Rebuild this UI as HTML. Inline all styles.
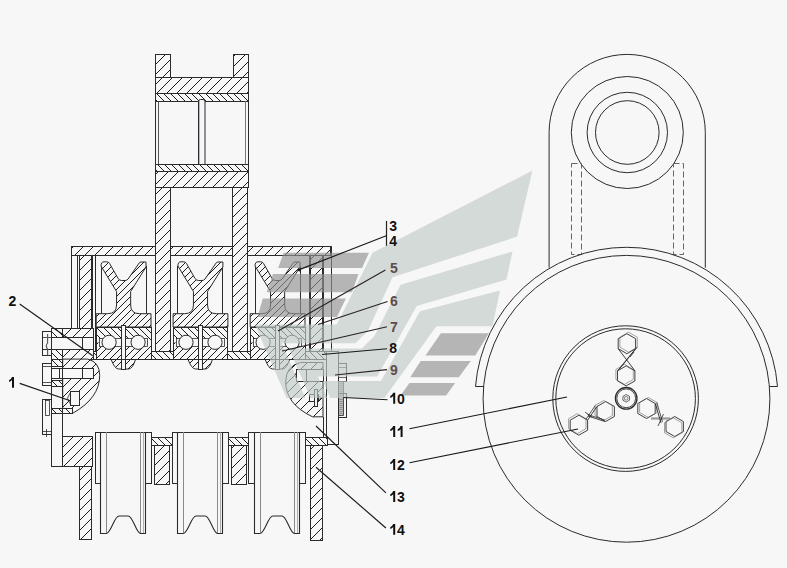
<!DOCTYPE html>
<html><head><meta charset="utf-8"><style>
html,body{margin:0;padding:0;background:#f7f7f7;}
svg{display:block;}
text{font-family:"Liberation Sans",sans-serif;font-weight:bold;font-size:14px;}
</style></head><body>
<svg width="787" height="568" viewBox="0 0 787 568">
<defs>
<pattern id="hA" patternUnits="userSpaceOnUse" width="10" height="10">
<path d="M-1,1 L1,-1 M0,10 L10,0 M9,11 L11,9" stroke="#1c1c1c" stroke-width="1" shape-rendering="crispEdges"/>
</pattern>
<pattern id="hB" patternUnits="userSpaceOnUse" width="7" height="7">
<path d="M-1,6 L1,8 M0,0 L7,7 M6,-1 L8,1" stroke="#1c1c1c" stroke-width="1" shape-rendering="crispEdges"/>
</pattern>
<pattern id="hC" patternUnits="userSpaceOnUse" width="7" height="7">
<path d="M-1,1 L1,-1 M0,7 L7,0 M6,8 L8,6" stroke="#1c1c1c" stroke-width="1" shape-rendering="crispEdges"/>
</pattern>
<pattern id="hD" patternUnits="userSpaceOnUse" width="9" height="9">
<path d="M-1,1 L1,-1 M0,9 L9,0 M8,10 L10,8" stroke="#1c1c1c" stroke-width="1" shape-rendering="crispEdges"/>
</pattern>
</defs>
<rect width="787" height="568" fill="#f7f7f7"/>
<path d="M549.1,267.7 L549.1,132.5 A78.1,78.1 0 0 1 705.3,132.5 L705.3,267.7" fill="none" stroke="#2b2b2b" stroke-width="1.0" />
<circle cx="627.3" cy="132.5" r="56.0" fill="none" stroke="#2b2b2b" stroke-width="1.0" />
<circle cx="627.3" cy="132.5" r="40.2" fill="none" stroke="#2b2b2b" stroke-width="1.0" />
<circle cx="627.3" cy="132.5" r="31.8" fill="none" stroke="#2b2b2b" stroke-width="1.0" />
<rect x="571.5" y="163.5" width="10.0" height="91.0" fill="none" stroke="#555" stroke-width="0.9" stroke-dasharray="6,3"/>
<rect x="673.5" y="163.5" width="10.0" height="91.0" fill="none" stroke="#555" stroke-width="0.9" stroke-dasharray="6,3"/>
<circle cx="626.5" cy="398.8" r="143.4" fill="none" stroke="#2b2b2b" stroke-width="1.0" />
<path d="M483.6,386.5 L475.5,386.5 A151.5,151.5 0 0 1 777.5,386.5 L769.4,386.5" fill="none" stroke="#2b2b2b" stroke-width="1.0" />
<circle cx="625.6" cy="398.6" r="72.8" fill="none" stroke="#2b2b2b" stroke-width="1.0" />
<circle cx="625.6" cy="398.6" r="69.8" fill="none" stroke="#2b2b2b" stroke-width="1.0" />
<circle cx="626.2" cy="398.3" r="10.8" fill="none" stroke="#2b2b2b" stroke-width="1.3" />
<circle cx="626.2" cy="398.3" r="9.4" fill="none" stroke="#2b2b2b" stroke-width="0.9" />
<polygon points="629.5,400.2 626.2,402.1 622.9,400.2 622.9,396.4 626.2,394.5 629.5,396.4" fill="none" stroke="#2b2b2b" stroke-width="0.7" />
<circle cx="626.2" cy="398.3" r="1.8" fill="none" stroke="#2b2b2b" stroke-width="0.6" />
<polygon points="635.6,348.7 626.9,353.7 618.2,348.7 618.2,338.7 626.9,333.7 635.6,338.7" fill="none" stroke="#2b2b2b" stroke-width="0.9" />
<polygon points="637.3,347.2 628.6,352.2 619.9,347.2 619.9,337.2 628.6,332.2 637.3,337.2" fill="none" stroke="#666" stroke-width="0.6" />
<polygon points="634.9,380.9 626.2,385.9 617.5,380.9 617.5,370.9 626.2,365.9 634.9,370.9" fill="none" stroke="#2b2b2b" stroke-width="0.9" />
<polygon points="633.3,379.4 624.6,384.4 615.9,379.4 615.9,369.4 624.6,364.4 633.3,369.4" fill="none" stroke="#666" stroke-width="0.6" />
<polyline points="635.6,348.7 617.5,370.9" fill="none" stroke="#2b2b2b" stroke-width="0.9" />
<polyline points="637.2,347.2 619.2,369.4" fill="none" stroke="#2b2b2b" stroke-width="0.8" />
<polyline points="618.2,348.7 635.0,370.9" fill="none" stroke="#2b2b2b" stroke-width="0.9" />
<line x1="630.0" y1="357.0" x2="634.0" y2="352.0" stroke="#2b2b2b" stroke-width="0.8" />
<polygon points="614.4,416.5 605.7,421.5 597.0,416.5 597.0,406.5 605.7,401.5 614.4,406.5" fill="none" stroke="#2b2b2b" stroke-width="0.9" />
<polygon points="612.4,415.5 603.7,420.5 595.0,415.5 595.0,405.5 603.7,400.5 612.4,405.5" fill="none" stroke="#666" stroke-width="0.6" />
<polygon points="587.6,430.2 578.9,435.2 570.2,430.2 570.2,420.2 578.9,415.2 587.6,420.2" fill="none" stroke="#2b2b2b" stroke-width="0.9" />
<polygon points="586.0,428.7 577.3,433.7 568.6,428.7 568.6,418.7 577.3,413.7 586.0,418.7" fill="none" stroke="#666" stroke-width="0.6" />
<polyline points="596.9,406.5 587.6,420.2" fill="none" stroke="#2b2b2b" stroke-width="0.9" />
<polyline points="595.3,405.5 586.0,419.2" fill="none" stroke="#2b2b2b" stroke-width="0.8" />
<polyline points="588.0,416.0 605.0,421.5" fill="none" stroke="#2b2b2b" stroke-width="0.9" />
<polyline points="587.6,414.5 604.6,420.0" fill="none" stroke="#2b2b2b" stroke-width="0.8" />
<line x1="585.0" y1="412.0" x2="592.0" y2="417.0" stroke="#2b2b2b" stroke-width="0.8" />
<polygon points="655.2,413.5 646.5,418.5 637.8,413.5 637.8,403.5 646.5,398.5 655.2,403.5" fill="none" stroke="#2b2b2b" stroke-width="0.9" />
<polygon points="657.0,412.5 648.3,417.5 639.6,412.5 639.6,402.5 648.3,397.5 657.0,402.5" fill="none" stroke="#666" stroke-width="0.6" />
<polygon points="683.4,431.5 674.7,436.5 666.0,431.5 666.0,421.5 674.7,416.5 683.4,421.5" fill="none" stroke="#2b2b2b" stroke-width="0.9" />
<polygon points="681.9,432.8 673.2,437.8 664.5,432.8 664.5,422.8 673.2,417.8 681.9,422.8" fill="none" stroke="#666" stroke-width="0.6" />
<line x1="651.0" y1="418.5" x2="670.0" y2="418.5" stroke="#9a9a9a" stroke-width="2.2" />
<polyline points="655.3,403.5 661.0,423.0" fill="none" stroke="#2b2b2b" stroke-width="0.9" />
<polyline points="656.8,402.5 662.5,422.0" fill="none" stroke="#2b2b2b" stroke-width="0.8" />
<polyline points="658.0,426.0 663.5,414.0" fill="none" stroke="#2b2b2b" stroke-width="0.8" />
<rect x="155.5" y="54.5" width="15.0" height="23.0" fill="#f7f7f7"/>
<rect x="155.5" y="54.5" width="15.0" height="23.0" fill="url(#hA)" stroke="#2b2b2b" stroke-width="1.0" />
<rect x="233.5" y="54.5" width="15.0" height="23.0" fill="#f7f7f7"/>
<rect x="233.5" y="54.5" width="15.0" height="23.0" fill="url(#hA)" stroke="#2b2b2b" stroke-width="1.0" />
<rect x="155.5" y="77.5" width="93.0" height="16.0" fill="#f7f7f7"/>
<rect x="155.5" y="77.5" width="93.0" height="16.0" fill="url(#hA)" stroke="#2b2b2b" stroke-width="1.0" />
<rect x="155.5" y="93.5" width="93.0" height="8.0" fill="#f7f7f7"/>
<rect x="155.5" y="93.5" width="93.0" height="8.0" fill="url(#hB)" stroke="#2b2b2b" stroke-width="1.0" />
<line x1="155.5" y1="101.2" x2="155.5" y2="164.5" stroke="#2b2b2b" stroke-width="1.0" />
<line x1="248.5" y1="101.2" x2="248.5" y2="164.5" stroke="#2b2b2b" stroke-width="1.0" />
<line x1="158.5" y1="101.2" x2="158.5" y2="164.5" stroke="#555" stroke-width="1.0" />
<line x1="245.5" y1="101.2" x2="245.5" y2="164.5" stroke="#777" stroke-width="1.0" />
<rect x="198.5" y="99.5" width="6.5" height="66.5" rx="2" fill="#f4f6fa" stroke="#2b2b2b" stroke-width="1"/>
<line x1="199.5" y1="101.0" x2="199.5" y2="164.0" stroke="#aaa" stroke-width="0.8" />
<rect x="155.5" y="164.5" width="93.0" height="7.0" fill="#f7f7f7"/>
<rect x="155.5" y="164.5" width="93.0" height="7.0" fill="url(#hB)" stroke="#2b2b2b" stroke-width="1.0" />
<rect x="155.5" y="171.5" width="93.0" height="16.0" fill="#f7f7f7"/>
<rect x="155.5" y="171.5" width="93.0" height="16.0" fill="url(#hA)" stroke="#2b2b2b" stroke-width="1.0" />
<rect x="155.5" y="187.5" width="15.0" height="165.0" fill="#f7f7f7"/>
<rect x="155.5" y="187.5" width="15.0" height="165.0" fill="url(#hA)" stroke="#2b2b2b" stroke-width="1.0" />
<rect x="232.5" y="187.5" width="15.0" height="165.0" fill="#f7f7f7"/>
<rect x="232.5" y="187.5" width="15.0" height="165.0" fill="url(#hA)" stroke="#2b2b2b" stroke-width="1.0" />
<rect x="71.5" y="246.5" width="84.0" height="9.0" fill="#f7f7f7"/>
<rect x="71.5" y="246.5" width="84.0" height="9.0" fill="url(#hA)" stroke="#2b2b2b" stroke-width="1.0" />
<rect x="170.5" y="246.5" width="62.0" height="9.0" fill="#f7f7f7"/>
<rect x="170.5" y="246.5" width="62.0" height="9.0" fill="url(#hA)" stroke="#2b2b2b" stroke-width="1.0" />
<rect x="247.5" y="246.5" width="83.0" height="9.0" fill="#f7f7f7"/>
<rect x="247.5" y="246.5" width="83.0" height="9.0" fill="url(#hA)" stroke="#2b2b2b" stroke-width="1.0" />
<line x1="71.5" y1="255.9" x2="71.5" y2="328.6" stroke="#2b2b2b" stroke-width="1.0" />
<line x1="77.5" y1="255.9" x2="77.5" y2="328.6" stroke="#2b2b2b" stroke-width="1.0" />
<rect x="79.5" y="255.5" width="12.0" height="76.0" fill="#f7f7f7"/>
<rect x="79.5" y="255.5" width="12.0" height="76.0" fill="url(#hA)" stroke="#2b2b2b" stroke-width="1.0" />
<line x1="92.5" y1="255.9" x2="92.5" y2="359.3" stroke="#2b2b2b" stroke-width="1.0" />
<line x1="95.5" y1="255.9" x2="95.5" y2="359.3" stroke="#2b2b2b" stroke-width="1.0" />
<rect x="310.5" y="255.5" width="12.0" height="96.0" fill="#f7f7f7"/>
<rect x="310.5" y="255.5" width="12.0" height="96.0" fill="url(#hA)" stroke="#2b2b2b" stroke-width="1.0" />
<line x1="309.5" y1="255.9" x2="309.5" y2="351.4" stroke="#2b2b2b" stroke-width="1.0" />
<line x1="323.5" y1="255.9" x2="323.5" y2="351.4" stroke="#2b2b2b" stroke-width="1.0" />
<line x1="331.5" y1="246.1" x2="331.5" y2="351.0" stroke="#2b2b2b" stroke-width="1.0" />
<rect x="52.5" y="351.5" width="275.0" height="8.0" fill="#f7f7f7"/>
<rect x="52.5" y="351.5" width="275.0" height="8.0" fill="url(#hB)" stroke="#2b2b2b" stroke-width="1.0" />
<line x1="101.5" y1="266.0" x2="101.5" y2="313.7" stroke="#2b2b2b" stroke-width="1.0" />
<line x1="146.5" y1="266.0" x2="146.5" y2="313.7" stroke="#2b2b2b" stroke-width="1.0" />
<path d="M101.0,266 Q101.0,261.8 104.1,261.8 L106.6,261.8 Q108.8,261.8 109.6,263.5 L118.1,278.5 Q119.6,280.5 121.6,280.5 L125.1,280.5 Q126.89999999999999,280.5 128.1,279 L139.2,263 Q139.9,262 141.0,262 L146.0,262 L146.0,267 L130.65,291.5 L130.65,305 Q130.65,313.7 139.6,313.7 L151.0,313.7 L151.0,327 L96.19999999999999,327 L96.19999999999999,313.7 L107.6,313.7 Q116.55,313.7 116.55,305 L116.55,291.5 Z" fill="#f7f7f7"/>
<path d="M101.0,266 Q101.0,261.8 104.1,261.8 L106.6,261.8 Q108.8,261.8 109.6,263.5 L118.1,278.5 Q119.6,280.5 121.6,280.5 L125.1,280.5 Q126.89999999999999,280.5 128.1,279 L139.2,263 Q139.9,262 141.0,262 L146.0,262 L146.0,267 L130.65,291.5 L130.65,305 Q130.65,313.7 139.6,313.7 L151.0,313.7 L151.0,327 L96.19999999999999,327 L96.19999999999999,313.7 L107.6,313.7 Q116.55,313.7 116.55,305 L116.55,291.5 Z" fill="url(#hC)" stroke="#2b2b2b" stroke-width="1.0" />
<path d="M111.1,359.3 Q114.6,369 118.6,369 L128.6,369 Q132.6,369 135.6,359.3" fill="#f7f7f7"/>
<path d="M111.1,359.3 Q114.6,369 118.6,369 L128.6,369 Q132.6,369 135.6,359.3" fill="url(#hC)" stroke="#2b2b2b" stroke-width="1.0" />
<rect x="121.5" y="359.5" width="4.0" height="10.0" fill="#f7f7f7" stroke="#2b2b2b" stroke-width="1.0" />
<rect x="96.5" y="327.5" width="55.0" height="15.0" fill="#f7f7f7"/>
<rect x="96.5" y="327.5" width="55.0" height="15.0" fill="url(#hB)" stroke="none" stroke-width="1.0" />
<rect x="96.5" y="342.5" width="55.0" height="17.0" fill="#f7f7f7"/>
<rect x="96.5" y="342.5" width="55.0" height="17.0" fill="url(#hC)" stroke="none" stroke-width="1.0" />
<rect x="96.5" y="327.5" width="55.0" height="32.0" fill="none" stroke="#2b2b2b" stroke-width="1.0" />
<rect x="99.5" y="338.5" width="48.0" height="8.0" fill="#f7f7f7" stroke="#2b2b2b" stroke-width="0.8" />
<circle cx="109.1" cy="342.3" r="7.1" fill="#f7f7f7" stroke="#2b2b2b" stroke-width="1.0" />
<circle cx="138.1" cy="342.3" r="7.1" fill="#f7f7f7" stroke="#2b2b2b" stroke-width="1.0" />
<rect x="121.5" y="325.5" width="4.0" height="34.0" fill="#f7f7f7" stroke="#2b2b2b" stroke-width="1.0" />
<line x1="177.5" y1="266.0" x2="177.5" y2="313.7" stroke="#2b2b2b" stroke-width="1.0" />
<line x1="222.5" y1="266.0" x2="222.5" y2="313.7" stroke="#2b2b2b" stroke-width="1.0" />
<path d="M177.9,266 Q177.9,261.8 181.0,261.8 L183.5,261.8 Q185.7,261.8 186.5,263.5 L195.0,278.5 Q196.5,280.5 198.5,280.5 L202.0,280.5 Q203.8,280.5 205.0,279 L216.1,263 Q216.8,262 217.9,262 L222.9,262 L222.9,267 L207.55,291.5 L207.55,305 Q207.55,313.7 216.5,313.7 L227.9,313.7 L227.9,327 L173.1,327 L173.1,313.7 L184.5,313.7 Q193.45,313.7 193.45,305 L193.45,291.5 Z" fill="#f7f7f7"/>
<path d="M177.9,266 Q177.9,261.8 181.0,261.8 L183.5,261.8 Q185.7,261.8 186.5,263.5 L195.0,278.5 Q196.5,280.5 198.5,280.5 L202.0,280.5 Q203.8,280.5 205.0,279 L216.1,263 Q216.8,262 217.9,262 L222.9,262 L222.9,267 L207.55,291.5 L207.55,305 Q207.55,313.7 216.5,313.7 L227.9,313.7 L227.9,327 L173.1,327 L173.1,313.7 L184.5,313.7 Q193.45,313.7 193.45,305 L193.45,291.5 Z" fill="url(#hC)" stroke="#2b2b2b" stroke-width="1.0" />
<path d="M188.0,359.3 Q191.5,369 195.5,369 L205.5,369 Q209.5,369 212.5,359.3" fill="#f7f7f7"/>
<path d="M188.0,359.3 Q191.5,369 195.5,369 L205.5,369 Q209.5,369 212.5,359.3" fill="url(#hC)" stroke="#2b2b2b" stroke-width="1.0" />
<rect x="198.5" y="359.5" width="4.0" height="10.0" fill="#f7f7f7" stroke="#2b2b2b" stroke-width="1.0" />
<rect x="173.5" y="327.5" width="54.0" height="15.0" fill="#f7f7f7"/>
<rect x="173.5" y="327.5" width="54.0" height="15.0" fill="url(#hB)" stroke="none" stroke-width="1.0" />
<rect x="173.5" y="342.5" width="54.0" height="17.0" fill="#f7f7f7"/>
<rect x="173.5" y="342.5" width="54.0" height="17.0" fill="url(#hC)" stroke="none" stroke-width="1.0" />
<rect x="173.5" y="327.5" width="54.0" height="32.0" fill="none" stroke="#2b2b2b" stroke-width="1.0" />
<rect x="176.5" y="338.5" width="48.0" height="8.0" fill="#f7f7f7" stroke="#2b2b2b" stroke-width="0.8" />
<circle cx="186.0" cy="342.3" r="7.1" fill="#f7f7f7" stroke="#2b2b2b" stroke-width="1.0" />
<circle cx="215.0" cy="342.3" r="7.1" fill="#f7f7f7" stroke="#2b2b2b" stroke-width="1.0" />
<rect x="198.5" y="325.5" width="4.0" height="34.0" fill="#f7f7f7" stroke="#2b2b2b" stroke-width="1.0" />
<line x1="255.5" y1="266.0" x2="255.5" y2="313.7" stroke="#2b2b2b" stroke-width="1.0" />
<line x1="300.5" y1="266.0" x2="300.5" y2="313.7" stroke="#2b2b2b" stroke-width="1.0" />
<path d="M255.00000000000003,266 Q255.00000000000003,261.8 258.1,261.8 L260.6,261.8 Q262.8,261.8 263.6,263.5 L272.1,278.5 Q273.6,280.5 275.6,280.5 L279.1,280.5 Q280.90000000000003,280.5 282.1,279 L293.20000000000005,263 Q293.90000000000003,262 295.0,262 L300.0,262 L300.0,267 L284.65000000000003,291.5 L284.65000000000003,305 Q284.65000000000003,313.7 293.6,313.7 L305.0,313.7 L305.0,327 L250.20000000000002,327 L250.20000000000002,313.7 L261.6,313.7 Q270.55,313.7 270.55,305 L270.55,291.5 Z" fill="#f7f7f7"/>
<path d="M255.00000000000003,266 Q255.00000000000003,261.8 258.1,261.8 L260.6,261.8 Q262.8,261.8 263.6,263.5 L272.1,278.5 Q273.6,280.5 275.6,280.5 L279.1,280.5 Q280.90000000000003,280.5 282.1,279 L293.20000000000005,263 Q293.90000000000003,262 295.0,262 L300.0,262 L300.0,267 L284.65000000000003,291.5 L284.65000000000003,305 Q284.65000000000003,313.7 293.6,313.7 L305.0,313.7 L305.0,327 L250.20000000000002,327 L250.20000000000002,313.7 L261.6,313.7 Q270.55,313.7 270.55,305 L270.55,291.5 Z" fill="url(#hC)" stroke="#2b2b2b" stroke-width="1.0" />
<path d="M265.1,359.3 Q268.6,369 272.6,369 L282.6,369 Q286.6,369 289.6,359.3" fill="#f7f7f7"/>
<path d="M265.1,359.3 Q268.6,369 272.6,369 L282.6,369 Q286.6,369 289.6,359.3" fill="url(#hC)" stroke="#2b2b2b" stroke-width="1.0" />
<rect x="275.5" y="359.5" width="4.0" height="10.0" fill="#f7f7f7" stroke="#2b2b2b" stroke-width="1.0" />
<rect x="250.5" y="327.5" width="55.0" height="15.0" fill="#f7f7f7"/>
<rect x="250.5" y="327.5" width="55.0" height="15.0" fill="url(#hB)" stroke="none" stroke-width="1.0" />
<rect x="250.5" y="342.5" width="55.0" height="17.0" fill="#f7f7f7"/>
<rect x="250.5" y="342.5" width="55.0" height="17.0" fill="url(#hC)" stroke="none" stroke-width="1.0" />
<rect x="250.5" y="327.5" width="55.0" height="32.0" fill="none" stroke="#2b2b2b" stroke-width="1.0" />
<rect x="253.5" y="338.5" width="48.0" height="8.0" fill="#f7f7f7" stroke="#2b2b2b" stroke-width="0.8" />
<circle cx="263.1" cy="342.3" r="7.1" fill="#f7f7f7" stroke="#2b2b2b" stroke-width="1.0" />
<circle cx="292.1" cy="342.3" r="7.1" fill="#f7f7f7" stroke="#2b2b2b" stroke-width="1.0" />
<rect x="275.5" y="325.5" width="4.0" height="34.0" fill="#f7f7f7" stroke="#2b2b2b" stroke-width="1.0" />
<rect x="51.5" y="328.5" width="42.0" height="31.0" fill="#f7f7f7"/>
<rect x="51.5" y="328.5" width="42.0" height="31.0" fill="url(#hA)" stroke="#2b2b2b" stroke-width="1.0" />
<rect x="51.5" y="328.5" width="11.0" height="31.0" fill="#f7f7f7"/>
<rect x="51.5" y="328.5" width="11.0" height="31.0" fill="url(#hB)" stroke="#2b2b2b" stroke-width="1.0" />
<rect x="51.5" y="337.5" width="42.0" height="12.0" fill="#f7f7f7" stroke="#2b2b2b" stroke-width="1.0" />
<line x1="82.5" y1="337.3" x2="82.5" y2="349.1" stroke="#2b2b2b" stroke-width="1.0" />
<rect x="42.5" y="331.5" width="9.0" height="24.0" fill="#f7f7f7" stroke="#2b2b2b" stroke-width="1.0" />
<line x1="42.3" y1="337.5" x2="51.1" y2="337.5" stroke="#2b2b2b" stroke-width="0.8" />
<line x1="42.3" y1="349.5" x2="51.1" y2="349.5" stroke="#2b2b2b" stroke-width="1.0" />
<path d="M47.6,334 L47.6,343 Q45,346 47.6,349 L47.6,355" fill="none" stroke="#555" stroke-width="1.1" />
<rect x="42.5" y="363.5" width="9.0" height="22.0" fill="#f7f7f7" stroke="#2b2b2b" stroke-width="1.0" />
<rect x="42.5" y="399.5" width="9.0" height="35.0" fill="#f7f7f7" stroke="#2b2b2b" stroke-width="1.0" />
<path d="M62.7,359.1 L87.8,359.1 Q99.7,362 99.7,375.4 Q99.7,398 72.8,413.2 L62.7,413.2 Z" fill="#f7f7f7"/>
<path d="M62.7,359.1 L87.8,359.1 Q99.7,362 99.7,375.4 Q99.7,398 72.8,413.2 L62.7,413.2 Z" fill="url(#hA)" stroke="#2b2b2b" stroke-width="1.0" />
<rect x="51.5" y="359.5" width="11.0" height="54.0" fill="#f7f7f7" stroke="#2b2b2b" stroke-width="1.0" />
<rect x="51.5" y="359.5" width="11.0" height="7.0" fill="#f7f7f7"/>
<rect x="51.5" y="359.5" width="11.0" height="7.0" fill="url(#hB)" stroke="#2b2b2b" stroke-width="1.0" />
<rect x="51.5" y="380.5" width="11.0" height="6.0" fill="#f7f7f7"/>
<rect x="51.5" y="380.5" width="11.0" height="6.0" fill="url(#hB)" stroke="#2b2b2b" stroke-width="1.0" />
<rect x="51.5" y="408.5" width="21.0" height="5.0" fill="#f7f7f7"/>
<rect x="51.5" y="408.5" width="21.0" height="5.0" fill="url(#hB)" stroke="#2b2b2b" stroke-width="1.0" />
<rect x="51.5" y="368.5" width="42.0" height="10.0" fill="#f7f7f7" stroke="#2b2b2b" stroke-width="1.0" />
<line x1="59.5" y1="368.9" x2="59.5" y2="378.8" stroke="#2b2b2b" stroke-width="1.0" />
<line x1="82.5" y1="368.9" x2="82.5" y2="378.8" stroke="#2b2b2b" stroke-width="1.0" />
<rect x="70.5" y="391.5" width="9.0" height="14.0" fill="#f7f7f7" stroke="#2b2b2b" stroke-width="1.0" />
<path d="M70.9,391.5 L67.5,398.2 L70.9,405" fill="none" stroke="#2b2b2b" stroke-width="0.8" />
<line x1="62.5" y1="359.1" x2="62.5" y2="466.3" stroke="#2b2b2b" stroke-width="1.0" />
<line x1="42.3" y1="366.5" x2="51.5" y2="366.5" stroke="#2b2b2b" stroke-width="0.8" />
<line x1="42.3" y1="382.5" x2="51.5" y2="382.5" stroke="#2b2b2b" stroke-width="0.8" />
<rect x="45.5" y="400.5" width="4.0" height="15.0" fill="none" stroke="#2b2b2b" stroke-width="0.8" />
<line x1="42.5" y1="431.5" x2="51.2" y2="431.5" stroke="#2b2b2b" stroke-width="0.8" />
<line x1="46.5" y1="429.0" x2="46.5" y2="437.0" stroke="#2b2b2b" stroke-width="0.8" />
<rect x="51.5" y="413.5" width="11.0" height="53.0" fill="#f7f7f7" stroke="#2b2b2b" stroke-width="1.0" />
<path d="M323,362.5 L300.5,362.5 Q285.7,366 285.7,382 Q285.7,404 312.5,416.8 L323,416.8 Z" fill="#f7f7f7"/>
<path d="M323,362.5 L300.5,362.5 Q285.7,366 285.7,382 Q285.7,404 312.5,416.8 L323,416.8 Z" fill="url(#hA)" stroke="#2b2b2b" stroke-width="1.0" />
<rect x="296.5" y="369.5" width="27.0" height="12.0" fill="#f7f7f7" stroke="#2b2b2b" stroke-width="1.0" />
<line x1="306.5" y1="369.3" x2="306.5" y2="381.6" stroke="#2b2b2b" stroke-width="1.0" />
<path d="M296.7,372 L294.8,375.4 L296.7,379" fill="none" stroke="#2b2b2b" stroke-width="0.8" />
<rect x="309.5" y="394.5" width="9.0" height="7.0" fill="#f7f7f7" stroke="#2b2b2b" stroke-width="1.0" />
<rect x="314.5" y="389.5" width="3.0" height="17.0" fill="#f7f7f7" stroke="#2b2b2b" stroke-width="1.0" />
<path d="M317.8,395.5 L321.5,397.9 L317.8,400.3" fill="none" stroke="#2b2b2b" stroke-width="0.8" />
<line x1="323.5" y1="416.8" x2="323.5" y2="437.4" stroke="#2b2b2b" stroke-width="1.0" />
<rect x="326.5" y="351.5" width="12.0" height="93.0" fill="#f7f7f7" stroke="#2b2b2b" stroke-width="1.0" />
<rect x="338.5" y="363.5" width="8.0" height="18.0" fill="#f7f7f7" stroke="#2b2b2b" stroke-width="1.0" />
<line x1="338.9" y1="367.5" x2="346.8" y2="367.5" stroke="#2b2b2b" stroke-width="0.7" />
<line x1="338.9" y1="377.5" x2="346.8" y2="377.5" stroke="#2b2b2b" stroke-width="0.7" />
<rect x="338.5" y="381.5" width="5.0" height="34.0" fill="#bdbdbd" stroke="#2b2b2b" stroke-width="0.8" />
<line x1="339.3" y1="383.5" x2="342.9" y2="383.5" stroke="#777" stroke-width="0.6" />
<line x1="339.3" y1="385.5" x2="342.9" y2="385.5" stroke="#777" stroke-width="0.6" />
<line x1="339.3" y1="387.5" x2="342.9" y2="387.5" stroke="#777" stroke-width="0.6" />
<line x1="339.3" y1="389.5" x2="342.9" y2="389.5" stroke="#777" stroke-width="0.6" />
<line x1="339.3" y1="391.5" x2="342.9" y2="391.5" stroke="#777" stroke-width="0.6" />
<line x1="339.3" y1="393.5" x2="342.9" y2="393.5" stroke="#777" stroke-width="0.6" />
<line x1="339.3" y1="395.5" x2="342.9" y2="395.5" stroke="#777" stroke-width="0.6" />
<line x1="339.3" y1="397.5" x2="342.9" y2="397.5" stroke="#777" stroke-width="0.6" />
<line x1="339.3" y1="399.5" x2="342.9" y2="399.5" stroke="#777" stroke-width="0.6" />
<line x1="339.3" y1="401.5" x2="342.9" y2="401.5" stroke="#777" stroke-width="0.6" />
<line x1="339.3" y1="403.5" x2="342.9" y2="403.5" stroke="#777" stroke-width="0.6" />
<line x1="339.3" y1="405.5" x2="342.9" y2="405.5" stroke="#777" stroke-width="0.6" />
<line x1="339.3" y1="407.5" x2="342.9" y2="407.5" stroke="#777" stroke-width="0.6" />
<line x1="339.3" y1="409.5" x2="342.9" y2="409.5" stroke="#777" stroke-width="0.6" />
<line x1="339.3" y1="411.5" x2="342.9" y2="411.5" stroke="#777" stroke-width="0.6" />
<line x1="339.3" y1="413.5" x2="342.9" y2="413.5" stroke="#777" stroke-width="0.6" />
<rect x="338.5" y="393.5" width="8.0" height="24.0" fill="none" stroke="#2b2b2b" stroke-width="1.0" />
<rect x="62.5" y="436.5" width="30.0" height="30.0" fill="#f7f7f7"/>
<rect x="62.5" y="436.5" width="30.0" height="30.0" fill="url(#hA)" stroke="#2b2b2b" stroke-width="1.0" />
<rect x="79.5" y="466.5" width="12.0" height="73.0" fill="#f7f7f7"/>
<rect x="79.5" y="466.5" width="12.0" height="73.0" fill="url(#hA)" stroke="#2b2b2b" stroke-width="1.0" />
<rect x="95.5" y="432.5" width="6.0" height="51.0" fill="#f7f7f7" stroke="#2b2b2b" stroke-width="1.0" />
<rect x="145.5" y="432.5" width="6.0" height="51.0" fill="#f7f7f7" stroke="#2b2b2b" stroke-width="1.0" />
<path d="M100.5,432.5 L145.5,432.5 L145.5,533.5 L140.6,533.5 C136.1,533.5 133.1,516 128.1,516 L119.1,516 C114.1,516 111.1,533.5 106.1,533.5 L100.5,533.5 Z" fill="#f7f7f7" stroke="#2b2b2b" stroke-width="1.1" />
<line x1="106.5" y1="432.0" x2="106.5" y2="533.0" stroke="#8a8a8a" stroke-width="1.0" />
<line x1="140.5" y1="432.0" x2="140.5" y2="533.0" stroke="#8a8a8a" stroke-width="1.0" />
<line x1="143.5" y1="432.0" x2="143.5" y2="533.0" stroke="#9a9a9a" stroke-width="0.8" />
<rect x="172.5" y="432.5" width="6.0" height="51.0" fill="#f7f7f7" stroke="#2b2b2b" stroke-width="1.0" />
<rect x="222.5" y="432.5" width="6.0" height="51.0" fill="#f7f7f7" stroke="#2b2b2b" stroke-width="1.0" />
<path d="M177.5,432.5 L222.5,432.5 L222.5,533.5 L217.6,533.5 C213.1,533.5 210.1,516 205.1,516 L196.1,516 C191.1,516 188.1,533.5 183.1,533.5 L177.5,533.5 Z" fill="#f7f7f7" stroke="#2b2b2b" stroke-width="1.1" />
<line x1="183.5" y1="432.0" x2="183.5" y2="533.0" stroke="#8a8a8a" stroke-width="1.0" />
<line x1="217.5" y1="432.0" x2="217.5" y2="533.0" stroke="#8a8a8a" stroke-width="1.0" />
<line x1="220.5" y1="432.0" x2="220.5" y2="533.0" stroke="#9a9a9a" stroke-width="0.8" />
<rect x="248.5" y="432.5" width="6.0" height="51.0" fill="#f7f7f7" stroke="#2b2b2b" stroke-width="1.0" />
<rect x="299.5" y="432.5" width="6.0" height="51.0" fill="#f7f7f7" stroke="#2b2b2b" stroke-width="1.0" />
<path d="M254.5,432.5 L299.5,432.5 L299.5,533.5 L294.4,533.5 C289.9,533.5 286.9,516 281.9,516 L272.9,516 C267.9,516 264.9,533.5 259.9,533.5 L254.5,533.5 Z" fill="#f7f7f7" stroke="#2b2b2b" stroke-width="1.1" />
<line x1="260.5" y1="432.0" x2="260.5" y2="533.0" stroke="#8a8a8a" stroke-width="1.0" />
<line x1="294.5" y1="432.0" x2="294.5" y2="533.0" stroke="#8a8a8a" stroke-width="1.0" />
<line x1="297.5" y1="432.0" x2="297.5" y2="533.0" stroke="#9a9a9a" stroke-width="0.8" />
<rect x="151.5" y="437.5" width="21.0" height="8.0" fill="#f7f7f7"/>
<rect x="151.5" y="437.5" width="21.0" height="8.0" fill="url(#hB)" stroke="#2b2b2b" stroke-width="1.0" />
<rect x="154.5" y="445.5" width="15.0" height="39.0" fill="#f7f7f7"/>
<rect x="154.5" y="445.5" width="15.0" height="39.0" fill="url(#hA)" stroke="#2b2b2b" stroke-width="1.0" />
<rect x="228.5" y="437.5" width="20.0" height="8.0" fill="#f7f7f7"/>
<rect x="228.5" y="437.5" width="20.0" height="8.0" fill="url(#hB)" stroke="#2b2b2b" stroke-width="1.0" />
<rect x="231.5" y="445.5" width="15.0" height="39.0" fill="#f7f7f7"/>
<rect x="231.5" y="445.5" width="15.0" height="39.0" fill="url(#hA)" stroke="#2b2b2b" stroke-width="1.0" />
<rect x="305.5" y="437.5" width="22.0" height="8.0" fill="#f7f7f7"/>
<rect x="305.5" y="437.5" width="22.0" height="8.0" fill="url(#hB)" stroke="#2b2b2b" stroke-width="1.0" />
<rect x="310.5" y="445.5" width="12.0" height="95.0" fill="#f7f7f7"/>
<rect x="310.5" y="445.5" width="12.0" height="95.0" fill="url(#hA)" stroke="#2b2b2b" stroke-width="1.0" />
<g opacity="0.65">
<polygon points="532.4,170.6 372.6,252.8 336.8,324.4 254.9,324.4 286.6,398.0 305.3,398.0 281.8,343.3 355.5,343.3 367.8,331.0 392.5,277.3 517.1,236.6" fill="#c0ccc7" stroke="none" stroke-width="1.0" />
<polygon points="512.5,251.5 400.6,284.7 374.4,336.0 361.9,348.5 289.0,348.5 310.3,398.0 327.2,398.0 318.0,376.5 377.2,376.5 416.7,306.0 506.5,279.6" fill="#c0ccc7" stroke="none" stroke-width="1.0" />
<polygon points="500.0,290.5 420.0,311.3 381.0,381.0 323.0,381.0 330.3,398.0 384.4,398.0 436.4,326.3 492.5,326.3" fill="#c0ccc7" stroke="none" stroke-width="1.0" />
<polygon points="283.6,252.8 369.0,252.8 362.0,268.1 278.2,268.1" fill="#929292" stroke="none" stroke-width="1.0" />
<polygon points="273.0,274.0 358.5,274.0 352.0,292.3 266.7,292.3" fill="#929292" stroke="none" stroke-width="1.0" />
<polygon points="262.8,298.4 345.9,298.4 336.9,317.0 257.5,317.0" fill="#929292" stroke="none" stroke-width="1.0" />
<polygon points="440.9,333.2 488.8,333.2 475.3,355.5 425.5,355.5" fill="#929292" stroke="none" stroke-width="1.0" />
<polygon points="420.7,360.9 470.8,360.9 458.8,377.3 410.2,377.3" fill="#929292" stroke="none" stroke-width="1.0" />
<polygon points="409.5,382.9 455.1,382.9 446.1,395.6 400.5,395.6" fill="#929292" stroke="none" stroke-width="1.0" />
</g>
<text x="8.6" y="305.8" fill="#111" font-weight="bold">2</text>
<text x="389.3" y="230.9" fill="#111" font-weight="bold">3</text>
<text x="389.3" y="245.5" fill="#111" font-weight="bold">4</text>
<text x="389.9" y="272.7" fill="#5d4d4d" font-weight="bold">5</text>
<text x="389.9" y="305.9" fill="#5d4d4d" font-weight="bold">6</text>
<text x="389.9" y="331.6" fill="#5d4d4d" font-weight="bold">7</text>
<text x="389.3" y="352.7" fill="#111" font-weight="bold">8</text>
<text x="389.9" y="374.7" fill="#5d4d4d" font-weight="bold">9</text>
<text x="397.1" y="403.7" fill="#111" font-weight="bold">0</text>
<text x="397.1" y="470" fill="#111" font-weight="bold">2</text>
<text x="397.1" y="502" fill="#111" font-weight="bold">3</text>
<text x="397.1" y="534.8" fill="#111" font-weight="bold">4</text>
<path d="M12.00,376.90 L14.00,376.90 L14.00,387.80 L12.00,387.80 L12.00,380.10 Q10.80,381.50 9.10,382.00 L9.10,380.10 Q11.20,379.10 12.00,376.90 Z" fill="#111"/>
<path d="M393.20,392.80 L395.20,392.80 L395.20,403.70 L393.20,403.70 L393.20,396.00 Q392.00,397.40 390.30,397.90 L390.30,396.00 Q392.40,395.00 393.20,392.80 Z" fill="#111"/>
<path d="M393.20,426.00 L395.20,426.00 L395.20,436.90 L393.20,436.90 L393.20,429.20 Q392.00,430.60 390.30,431.10 L390.30,429.20 Q392.40,428.20 393.20,426.00 Z" fill="#111"/>
<path d="M393.20,459.10 L395.20,459.10 L395.20,470.00 L393.20,470.00 L393.20,462.30 Q392.00,463.70 390.30,464.20 L390.30,462.30 Q392.40,461.30 393.20,459.10 Z" fill="#111"/>
<path d="M393.20,491.10 L395.20,491.10 L395.20,502.00 L393.20,502.00 L393.20,494.30 Q392.00,495.70 390.30,496.20 L390.30,494.30 Q392.40,493.30 393.20,491.10 Z" fill="#111"/>
<path d="M393.20,523.90 L395.20,523.90 L395.20,534.80 L393.20,534.80 L393.20,527.10 Q392.00,528.50 390.30,529.00 L390.30,527.10 Q392.40,526.10 393.20,523.90 Z" fill="#111"/>
<path d="M400.60,426.00 L402.60,426.00 L402.60,436.90 L400.60,436.90 L400.60,429.20 Q399.40,430.60 397.70,431.10 L397.70,429.20 Q399.80,428.20 400.60,426.00 Z" fill="#111"/>
<line x1="386.5" y1="220.9" x2="386.5" y2="245.8" stroke="#222" stroke-width="1.2" />
<circle cx="299.3" cy="270.1" r="1.3" fill="#111" stroke="none" stroke-width="1.0" />
<line x1="19.7" y1="304.0" x2="92.7" y2="355.8" stroke="#1a1a1a" stroke-width="1.15" />
<line x1="19.7" y1="383.4" x2="69.5" y2="400.5" stroke="#1a1a1a" stroke-width="1.15" />
<line x1="386.2" y1="235.8" x2="298.7" y2="269.9" stroke="#1a1a1a" stroke-width="1.15" />
<line x1="385.4" y1="269.9" x2="278.0" y2="331.0" stroke="#2a2222" stroke-width="1.15" />
<line x1="387.5" y1="301.5" x2="318.0" y2="324.5" stroke="#2a2222" stroke-width="1.15" />
<line x1="387.0" y1="326.8" x2="282.0" y2="351.0" stroke="#2a2222" stroke-width="1.15" />
<line x1="387.0" y1="348.7" x2="322.0" y2="354.5" stroke="#1a1a1a" stroke-width="1.15" />
<line x1="387.0" y1="369.6" x2="335.0" y2="375.0" stroke="#2a2222" stroke-width="1.15" />
<line x1="387.5" y1="399.7" x2="343.3" y2="397.5" stroke="#1a1a1a" stroke-width="1.15" />
<line x1="409.5" y1="428.8" x2="567.0" y2="397.0" stroke="#1a1a1a" stroke-width="1.15" />
<line x1="409.5" y1="462.7" x2="578.0" y2="429.0" stroke="#1a1a1a" stroke-width="1.15" />
<line x1="385.9" y1="492.9" x2="316.0" y2="426.0" stroke="#1a1a1a" stroke-width="1.15" />
<line x1="385.9" y1="528.0" x2="316.0" y2="467.2" stroke="#1a1a1a" stroke-width="1.15" />
</svg>
</body></html>
